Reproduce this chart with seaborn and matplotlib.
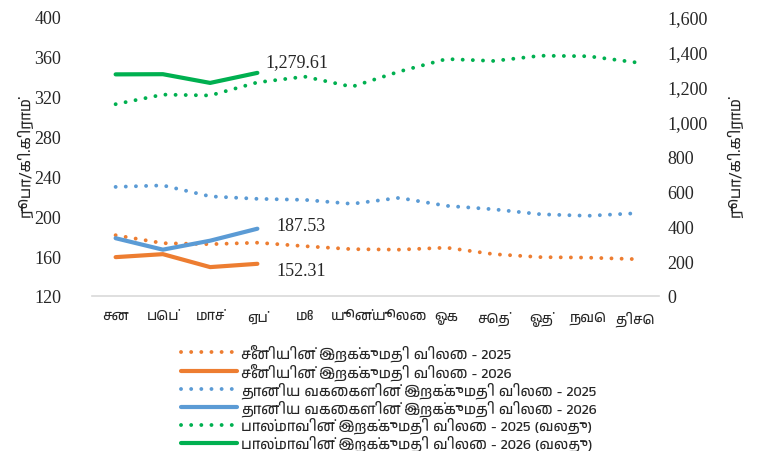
import matplotlib
matplotlib.use("Agg")
import matplotlib.pyplot as plt
from matplotlib import font_manager
from matplotlib.ticker import FuncFormatter, MultipleLocator
import seaborn as sns
import os

# data
months = ["சன", "பெப்", "மாச்", "ஏப்", "மே", "யூன்", "யூலை", "ஓக", "செத்", "ஓத்", "நவெ", "திசெ"]
sugar_2025 = [181, 173, 172, 173.5, 170, 167, 166.5, 168.5, 162, 159, 158.5, 157]
sugar_2026 = [159, 162, 149, 152.31]
grain_2025 = [229.5, 231, 220, 217.5, 216.5, 212.5, 218.5, 210.5, 207, 202, 200.5, 203]
grain_2026 = [178, 166.5, 175.5, 187.53]
milk_2025 = [1100, 1155, 1150, 1225, 1258, 1200, 1287, 1359, 1348, 1378, 1375, 1340]
milk_2026 = [1271, 1272, 1222, 1279.61]

labels = [
    "சீனியின் இறக்குமதி விலை - 2025",
    "சீனியின் இறக்குமதி விலை - 2026",
    "தானிய வகைகளின் இறக்குமதி விலை - 2025",
    "தானிய வகைகளின் இறக்குமதி விலை - 2026",
    "பால்மாவின் இறக்குமதி விலை - 2025 (வலது)",
    "பால்மாவின் இறக்குமதி விலை - 2026 (வலது)",
]
y_label = "ரூபா/கி.கிராம்"

orange = "#ED7D31"
blue = "#5B9BD5"
green = "#00B050"


def find_tamil_font():
    for f in font_manager.fontManager.ttflist:
        if "tamil" in f.name.lower():
            return f.name
    try:
        from fontTools.ttLib import TTFont
    except ImportError:
        return None
    seen = set()
    for f in font_manager.fontManager.ttflist:
        if f.fname in seen or not f.fname.lower().endswith((".ttf", ".otf")):
            continue
        seen.add(f.fname)
        try:
            if os.path.getsize(f.fname) > 8_000_000:
                continue
            cmap = TTFont(f.fname, lazy=True).getBestCmap()
            if cmap and 0x0B95 in cmap:
                return f.name
        except Exception:
            pass
    return None


sns.set_theme(style="white")
tamil = find_tamil_font()
fams = ([tamil] if tamil else []) + ["Liberation Serif", "DejaVu Sans"]
plt.rcParams["font.family"] = fams
serif = ["Liberation Serif", "DejaVu Serif"]

fig = plt.figure(figsize=(7.63, 4.52), dpi=100)
ax = fig.add_axes([92 / 763, 1 - 297 / 452, (659 - 92) / 763, (297 - 18) / 452])
ax2 = ax.twinx()

dot = dict(linestyle=(0, (0.01, 2.6)), dash_capstyle="round", linewidth=2.8)
solid = dict(linestyle="-", linewidth=3, solid_capstyle="round")

sns.lineplot(x=months, y=sugar_2025, ax=ax, color=orange, **dot)
sns.lineplot(x=months[:4], y=sugar_2026, ax=ax, color=orange, **solid)
sns.lineplot(x=months, y=grain_2025, ax=ax, color=blue, **dot)
sns.lineplot(x=months[:4], y=grain_2026, ax=ax, color=blue, **solid)
sns.lineplot(x=months, y=milk_2025, ax=ax2, color=green, **dot)
sns.lineplot(x=months[:4], y=milk_2026, ax=ax2, color=green, **solid)

ax.set_xlim(-0.5, 11.5)
ax.set_ylim(120, 400)
ax.yaxis.set_major_locator(MultipleLocator(40))
ax2.set_ylim(0, 1600)
ax2.yaxis.set_major_locator(MultipleLocator(200))
ax2.yaxis.set_major_formatter(FuncFormatter(lambda v, p: f"{v:,.0f}"))

for a in (ax, ax2):
    for s in a.spines.values():
        s.set_visible(False)
    a.tick_params(length=0)
ax.spines["bottom"].set_visible(True)
ax.spines["bottom"].set_color("#D9D9D9")
ax.spines["bottom"].set_linewidth(1.2)

for t in ax.get_yticklabels() + ax2.get_yticklabels():
    t.set_family(serif)
    t.set_fontsize(13)
ax.tick_params(axis="y", pad=22)
ax2.tick_params(axis="y", pad=6)
ax.tick_params(axis="x", pad=10, labelsize=10)

ax.set_ylabel(y_label, fontsize=11, labelpad=1)
ax2.set_ylabel(y_label, fontsize=11, labelpad=14)
ax.set_xlabel("")

# end-point value labels
ax2.annotate(f"{milk_2026[-1]:,.2f}", (3, milk_2026[-1]), xytext=(6, 8),
             textcoords="offset points", fontsize=13, family=serif, ha="left", va="center")
ax.annotate(f"{grain_2026[-1]:.2f}", (3, grain_2026[-1]), xytext=(14, 2),
            textcoords="offset points", fontsize=13, family=serif, ha="left", va="center")
ax.annotate(f"{sugar_2026[-1]:.2f}", (3, sugar_2026[-1]), xytext=(14, -5),
            textcoords="offset points", fontsize=13, family=serif, ha="left", va="center")

handles = ax.get_lines() + ax2.get_lines()
fig.legend(handles, labels, loc="upper left", bbox_to_anchor=(174 / 763, 1 - 337 / 452),
           frameon=False, fontsize=10.5, handlelength=3.8, handletextpad=0.3,
           labelspacing=0.08, borderpad=0)

fig.savefig("out.png", dpi=100)
